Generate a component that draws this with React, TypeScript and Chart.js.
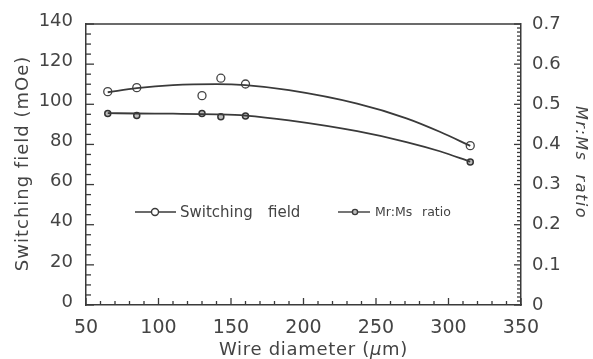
import React, { useEffect, useRef } from "react";
import { Chart, registerables } from "chart.js";

Chart.register(...registerables);

const FONT = "'DejaVu Sans', 'Liberation Sans', Arial, sans-serif";
const INK = "#3a3a3a";
const TEXT = "#444444";

// Measured points
const diameters = [65, 85, 130, 143, 160, 315];
const switchingField = [106.3, 108.3, 104.3, 113, 110.1, 79.4];
const mrMsRatio = [0.477, 0.472, 0.477, 0.469, 0.471, 0.356];

// Fitted curves
const fitDiameters = [65, 85, 110, 140, 160, 190, 237, 271, 294, 315];
const switchingFit = [106, 108, 109.5, 110, 109.5, 107, 100.3, 93, 86.3, 79.3];
const ratioFit = [0.478, 0.477, 0.4765, 0.475, 0.472, 0.46, 0.433, 0.406, 0.383, 0.357];

// Axes
const xMin = 50, xMax = 350, xStep = 50;
const yMin = 0, yMax = 140, yStep = 20;
const y2Min = 0, y2Max = 0.7, y2Step = 0.1;

const xTitleParts = [
  { t: "Wire diameter (", italic: false },
  { t: "\u03bc", italic: true },
  { t: "m)", italic: false },
];
const yTitle = "Switching field (mOe)";
const y2Title = "Mr:Ms  ratio";
const legendItems = [
  { words: ["Switching", "field"], size: 15 },
  { words: ["Mr:Ms", "ratio"], size: 12.5 },
];

const decor = {
  id: "decor",
  afterDraw(chart: any) {
    const { ctx, chartArea: a, scales } = chart;
    const sx = scales.x, sy = scales.y, sy2 = scales.y2;
    ctx.save();
    ctx.strokeStyle = INK;
    ctx.lineWidth = 1.3;
    const seg = (x1: number, y1: number, x2: number, y2: number) => {
      ctx.beginPath();
      ctx.moveTo(x1, y1);
      ctx.lineTo(x2, y2);
      ctx.stroke();
    };
    // top frame
    seg(a.left, a.top, a.right, a.top);
    // inside ticks
    for (let v = xMin; v <= xMax; v += 10) {
      const p = sx.getPixelForValue(v);
      seg(p, a.bottom, p, a.bottom - (v % 50 === 0 ? 7 : 4));
    }
    for (let v = yMin; v <= yMax; v += 5) {
      const p = sy.getPixelForValue(v);
      seg(a.left, p, a.left + (v % 20 === 0 ? 8 : 5), p);
    }
    for (let i = 0; i <= 70; i++) {
      const p = sy2.getPixelForValue(i / 100);
      seg(a.right, p, a.right - (i % 10 === 0 ? 7 : 4), p);
    }

    ctx.fillStyle = TEXT;
    // x title
    (ctx as any).letterSpacing = "0.7px";
    ctx.textBaseline = "alphabetic";
    ctx.textAlign = "left";
    let total = 0;
    const widths: number[] = [];
    for (const part of xTitleParts) {
      ctx.font = `${part.italic ? "italic " : ""}18px ${FONT}`;
      const w = ctx.measureText(part.t).width;
      widths.push(w);
      total += w;
    }
    let cx = (a.left + a.right) / 2 + 10 - total / 2;
    xTitleParts.forEach((part, i) => {
      ctx.font = `${part.italic ? "italic " : ""}18px ${FONT}`;
      ctx.fillText(part.t, cx, 355);
      cx += widths[i];
    });

    // left title
    ctx.save();
    (ctx as any).letterSpacing = "1px";
    ctx.font = `18px ${FONT}`;
    ctx.translate(28, (a.top + a.bottom) / 2 - 1);
    ctx.rotate(-Math.PI / 2);
    ctx.textAlign = "center";
    ctx.fillText(yTitle, 0, 0);
    ctx.restore();

    // right title
    ctx.save();
    (ctx as any).letterSpacing = "1.5px";
    ctx.font = `italic 16px ${FONT}`;
    ctx.translate(576, (a.top + a.bottom) / 2 - 2);
    ctx.rotate(Math.PI / 2);
    ctx.textAlign = "center";
    ctx.fillText(y2Title, 0, 0);
    ctx.restore();

    // legend
    (ctx as any).letterSpacing = "0px";
    const ly = 212;
    ctx.lineWidth = 1.4;
    seg(135, ly, 176, ly);
    ctx.beginPath();
    ctx.arc(155, ly, 3.5, 0, Math.PI * 2);
    ctx.fillStyle = "#fff";
    ctx.fill();
    ctx.stroke();
    seg(338, ly, 370, ly);
    ctx.beginPath();
    ctx.arc(355, ly, 2.6, 0, Math.PI * 2);
    ctx.fillStyle = "#bdbdbd";
    ctx.fill();
    ctx.stroke();
    ctx.fillStyle = TEXT;
    ctx.textBaseline = "middle";
    ctx.textAlign = "left";
    ctx.font = `${legendItems[0].size}px ${FONT}`;
    ctx.fillText(legendItems[0].words[0], 180, ly + 1);
    ctx.fillText(legendItems[0].words[1], 268, ly + 1);
    ctx.font = `${legendItems[1].size}px ${FONT}`;
    ctx.fillText(legendItems[1].words[0], 375, ly + 1);
    ctx.fillText(legendItems[1].words[1], 422, ly + 1);
    ctx.restore();
  },
};

export default function App() {
  const ref = useRef<HTMLCanvasElement | null>(null);
  useEffect(() => {
    if (!ref.current) return;
    const chart = new Chart(ref.current, {
      type: "scatter",
      data: {
        datasets: [
          {
            label: "Switching field fit",
            data: fitDiameters.map((x, i) => ({ x, y: switchingFit[i] })),
            yAxisID: "y",
            showLine: true,
            cubicInterpolationMode: "monotone",
            borderColor: INK,
            borderWidth: 1.8,
            pointRadius: 0,
          },
          {
            label: "Mr:Ms fit",
            data: fitDiameters.map((x, i) => ({ x, y: ratioFit[i] })),
            yAxisID: "y2",
            showLine: true,
            cubicInterpolationMode: "monotone",
            borderColor: INK,
            borderWidth: 1.8,
            pointRadius: 0,
          },
          {
            label: "Switching field",
            data: diameters.map((x, i) => ({ x, y: switchingField[i] })),
            yAxisID: "y",
            showLine: false,
            pointRadius: 4,
            pointBackgroundColor: "#ffffff",
            pointBorderColor: "#444",
            pointBorderWidth: 1.3,
          },
          {
            label: "Mr:Ms ratio",
            data: diameters.map((x, i) => ({ x, y: mrMsRatio[i] })),
            yAxisID: "y2",
            showLine: false,
            pointRadius: 3,
            pointBackgroundColor: "#bdbdbd",
            pointBorderColor: "#333",
            pointBorderWidth: 1.5,
          },
        ],
      },
      options: {
        animation: false,
        responsive: true,
        maintainAspectRatio: false,
        layout: { padding: { top: 24, left: 0, right: 0, bottom: 0 } },
        plugins: { legend: { display: false }, tooltip: { enabled: false } },
        scales: {
          x: {
            type: "linear",
            position: "bottom",
            min: xMin,
            max: xMax,
            afterFit: (s: any) => { s.height = 54; },
            ticks: { stepSize: xStep, color: TEXT, font: { family: FONT, size: 19 }, padding: 12, maxRotation: 0 },
            grid: { drawOnChartArea: false, drawTicks: false },
            border: { display: true, color: INK, width: 1.5 },
          },
          y: {
            type: "linear",
            position: "left",
            min: yMin,
            max: yMax,
            afterFit: (s: any) => { s.width = 86; },
            ticks: { stepSize: yStep, color: TEXT, font: { family: FONT, size: 18 }, padding: 13, labelOffset: -3 },
            grid: { drawOnChartArea: false, drawTicks: false },
            border: { display: true, color: INK, width: 1.5 },
          },
          y2: {
            type: "linear",
            position: "right",
            min: y2Min,
            max: y2Max,
            afterFit: (s: any) => { s.width = 72; },
            ticks: { stepSize: y2Step, color: TEXT, font: { family: FONT, size: 18 }, padding: 11 },
            grid: { drawOnChartArea: false, drawTicks: false },
            border: { display: true, color: INK, width: 1.5 },
          },
        },
      },
      plugins: [decor],
    });
    return () => chart.destroy();
  }, []);
  return (
    <div style={{ position: "fixed", left: 0, top: 0, width: 593, height: 359, background: "#fff" }}>
      <canvas ref={ref} />
    </div>
  );
}
